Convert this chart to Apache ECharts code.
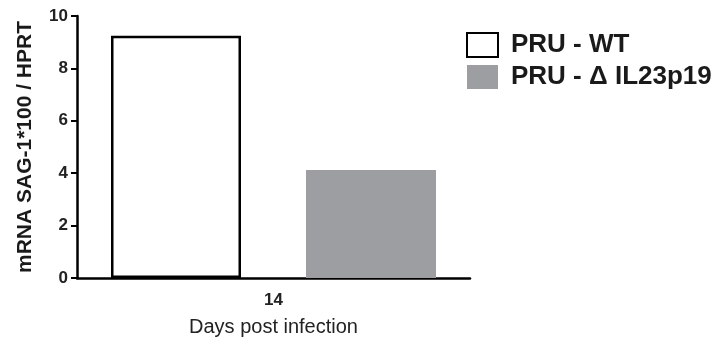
<!DOCTYPE html>
<html><head><meta charset="utf-8">
<script src="https://cdn.jsdelivr.net/npm/echarts@6/dist/echarts.min.js"></script>
<style>html,body{margin:0;padding:0;background:#fff}#c{width:728px;height:343px}</style>
</head><body><div id="c"></div>
<script>
const categories = ['14'];
const seriesNames = ['PRU - WT', 'PRU - \u0394 IL23p19'];
const wtValues = [9.25];
const koValues = [4.12];
const yTicks = [0, 2, 4, 6, 8, 10];

const chart = echarts.init(document.getElementById('c'));
const font = 'Liberation Sans, Arial, sans-serif';
chart.setOption({
  animation: false,
  grid: { left: 77, right: 258, top: 16, bottom: 65, containLabel: false },
  legend: {
    orient: 'vertical', left: 461, top: 27, itemWidth: 31, itemHeight: 24, itemGap: 6,
    icon: 'rect',
    textStyle: { fontFamily: font, fontSize: 26, fontWeight: 'bold', color: '#1a1a1a', lineHeight: 25, padding: [0, 0, 0, 8] },
    data: seriesNames
  },
  xAxis: {
    type: 'category', data: categories,
    name: 'Days post infection', nameLocation: 'middle', nameGap: 39,
    nameTextStyle: { fontFamily: font, fontSize: 20, color: '#222', verticalAlign: 'top' },
    axisLine: { lineStyle: { color: '#000', width: 2.5 } },
    axisTick: { alignWithLabel: true, length: 5, lineStyle: { color: '#000', width: 2 } },
    axisLabel: { fontFamily: font, fontSize: 17, fontWeight: 'bold', color: '#222', margin: 14 }
  },
  yAxis: {
    type: 'value', min: yTicks[0], max: yTicks[yTicks.length - 1], interval: 2,
    name: 'mRNA SAG-1*100 / HPRT', nameLocation: 'middle', nameGap: 41, nameRotate: 90,
    nameTextStyle: { fontFamily: font, fontSize: 21, fontWeight: 'bold', color: '#1a1a1a' },
    axisLine: { show: true, lineStyle: { color: '#000', width: 2.5 } },
    axisTick: { show: true, length: 6, lineStyle: { color: '#000', width: 2 } },
    axisLabel: { fontFamily: font, fontSize: 17, fontWeight: 'bold', color: '#222', margin: 9 },
    splitLine: { show: false }
  },
  series: [
    { name: seriesNames[0], type: 'bar', data: wtValues, barWidth: 130, barGap: '50%',
      itemStyle: { color: '#fff', borderColor: '#000', borderWidth: 2.5 } },
    { name: seriesNames[1], type: 'bar', data: koValues, barWidth: 130,
      itemStyle: { color: '#9d9ea2' } }
  ]
});
</script></body></html>
